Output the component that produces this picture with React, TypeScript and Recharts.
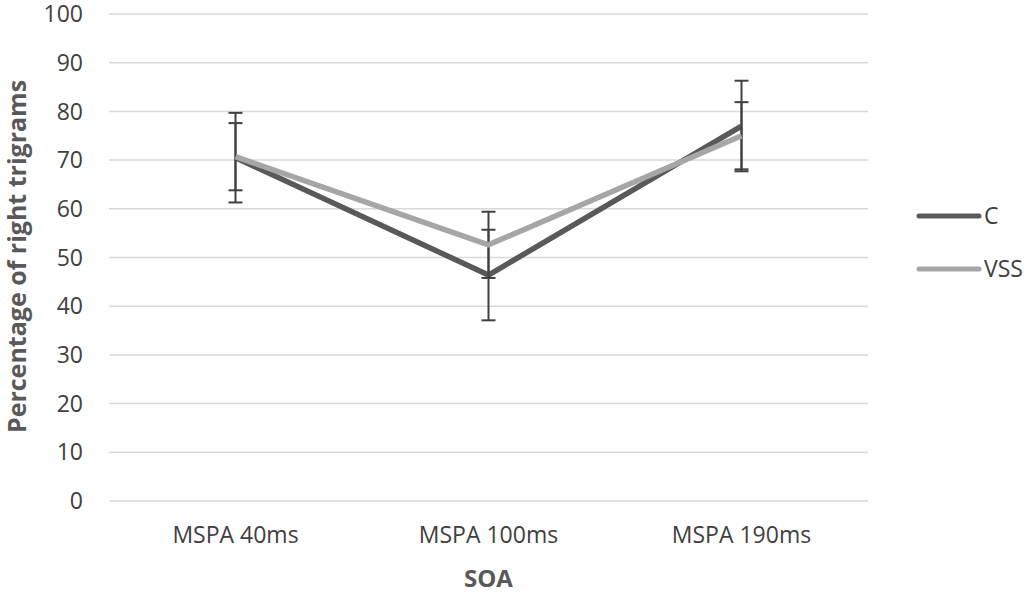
import React from 'react';
import { LineChart, Line, XAxis, YAxis, CartesianGrid, ErrorBar, Legend } from 'recharts';

const categories = ['MSPA 40ms', 'MSPA 100ms', 'MSPA 190ms'];
const cValues = [70.5, 46.4, 77.0];
const cErrors = [9.2, 9.3, 9.3];
const vssValues = [70.7, 52.6, 75.0];
const vssErrors = [6.9, 6.8, 6.9];
const yTicks = [0, 10, 20, 30, 40, 50, 60, 70, 80, 90, 100];

const data = categories.map((name, i) => ({
  name,
  C: cValues[i],
  cErr: cErrors[i],
  VSS: vssValues[i],
  vssErr: vssErrors[i],
}));

const FONT = '"Open Sans", "Noto Sans", sans-serif';
const C_COLOR = '#595959';
const VSS_COLOR = '#a6a6a6';

const LegendContent = () => (
  <svg width={110} height={80} style={{ overflow: 'visible', display: 'block' }}>
    <line x1={3} y1={11} x2={63} y2={11} stroke={C_COLOR} strokeWidth={5} strokeLinecap="round" />
    <text x={68} y={19} fontSize={23} fontFamily={FONT} fill="#404040">C</text>
    <line x1={3} y1={64} x2={63} y2={64} stroke={VSS_COLOR} strokeWidth={5} strokeLinecap="round" />
    <text x={68} y={72} fontSize={23} fontFamily={FONT} fill="#404040">VSS</text>
  </svg>
);

export default function App() {
  return (
    <div style={{ position: 'absolute', left: 0, top: 0, width: 1030, height: 595, background: '#fff' }}>
      <LineChart
        width={1030}
        height={595}
        data={data}
        margin={{ top: 14, right: 52, bottom: 0, left: 0 }}
      >
        <CartesianGrid vertical={false} stroke="#d9d9d9" strokeWidth={1.5} />
        <XAxis
          dataKey="name"
          scale="band"
          axisLine={false}
          tickLine={false}
          tickMargin={20}
          height={94}
          tick={{ fontSize: 23, fontFamily: FONT, fill: '#404040' }}
          label={{ value: 'SOA', position: 'insideBottom', offset: 8, fontSize: 24, fontWeight: 'bold', fontFamily: FONT, fill: '#595959' }}
        />
        <YAxis
          domain={[0, 100]}
          ticks={yTicks}
          axisLine={false}
          tickLine={false}
          tickMargin={20}
          width={109}
          tick={{ fontSize: 23, fontFamily: FONT, fill: '#404040' }}
          label={{ value: 'Percentage of right trigrams', angle: -90, position: 'center', dx: -37, dy: -1, fontSize: 25, fontWeight: 'bold', fontFamily: FONT, fill: '#595959' }}
        />
        <Legend
          layout="vertical"
          verticalAlign="middle"
          align="right"
          content={LegendContent}
          wrapperStyle={{ position: 'absolute', left: 916, top: 205, width: 110, height: 80, right: 'auto', bottom: 'auto' }}
        />
        <Line
          dataKey="C"
          stroke={C_COLOR}
          strokeWidth={5.5}
          dot={false}
          strokeLinejoin="round"
          isAnimationActive={false}
        >
          <ErrorBar dataKey="cErr" width={7} stroke="#404040" strokeWidth={2} direction="y" />
        </Line>
        <Line
          dataKey="VSS"
          stroke={VSS_COLOR}
          strokeWidth={5.5}
          dot={false}
          strokeLinejoin="round"
          isAnimationActive={false}
        >
          <ErrorBar dataKey="vssErr" width={7} stroke="#404040" strokeWidth={2} direction="y" />
        </Line>
      </LineChart>
    </div>
  );
}
